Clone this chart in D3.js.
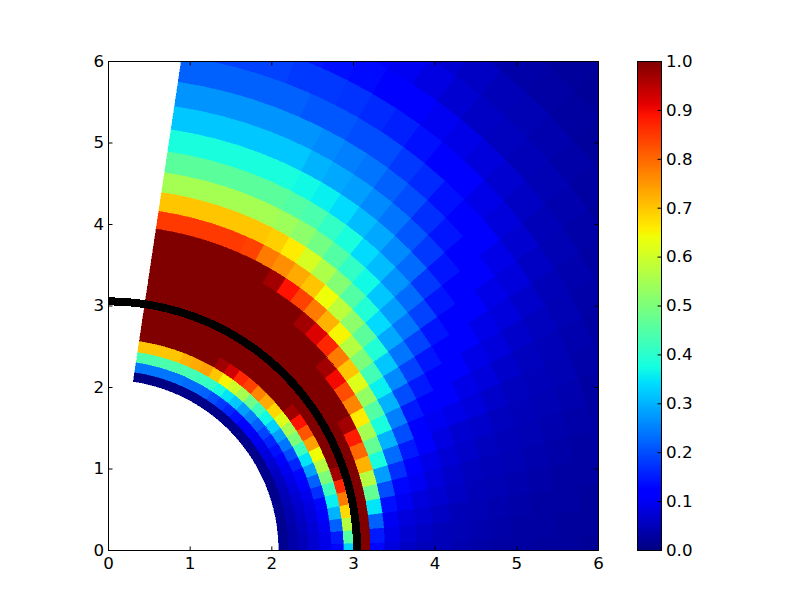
<!DOCTYPE html>
<html><head><meta charset="utf-8">
<script src="https://cdnjs.cloudflare.com/ajax/libs/d3/7.8.5/d3.min.js"></script>
<style>html,body{margin:0;padding:0;background:#fff}svg{display:block}text{font-family:"DejaVu Sans";fill:#000}</style>
</head><body><svg id="c" width="812" height="612"></svg>
<script>
const radiusEdges=[2.09,2.206,2.328,2.456,2.592,2.735,2.887,3.046,3.215,3.393,3.58,3.78,3.988,4.208,4.441,4.687,4.946,5.219,5.508,5.81,6.13,6.47,6.83,7.21,7.6,8.03,8.47,8.95];
const thetaEdges=[-1.5,1.57,4.65,7.72,10.8,13.87,16.94,20.02,23.09,26.17,29.24,32.31,35.39,38.46,41.54,44.61,47.69,50.76,53.83,56.91,59.98,63.06,66.13,69.2,72.28,75.35,78.43,81.5];
const ring0=[.015,.015,.015,.015,.015,.015,.012,.012,.012,.012,.01,.01,.01,.01,.01,.01,.01,.01,.008,.008,.008,.008,.005,.005,.005,.005,.005];
const ring1=[.035,.035,.035,.04,.04,.045,.05,.055,.06,.07,.08,.09,.1,.11,.125,.14,.16,.18,.2,.22,.23,.23,.24,.24,.24,.24,.24];
const ring2=[.05,.05,.055,.06,.065,.07,.08,.09,.1,.12,.14,.16,.19,.22,.25,.28,.32,.35,.38,.41,.42,.43,.44,.44,.44,.44,.44];
const ring3=[.07,.07,.075,.08,.085,.095,.11,.13,.16,.2,.24,.28,.33,.37,.42,.48,.55,.6,.65,.7,.74,.73,.72,.7,.7,.7,.7];
const ring4=[.09,.09,.1,.11,.13,.17,.22,.28,.35,.42,.5,.55,.62,.68,.73,.77,.84,.87,.93,.97,1,1,1,1,1,1,1];
const ring5=[.13,.15,.22,.3,.36,.42,.5,.57,.64,.74,.82,.89,.97,1,1,1,1,1,1,1,1,1,1,1,1,1,1];
const ring6=[.33,.45,.57,.68,.78,.87,.97,1,1,1,1,1,1,1,1,1,1,1,1,1,1,1,1,1,1,1,1];
const ring7=[1,1,1,1,1,1,1,1,1,1,1,1,1,1,1,1,1,1,1,1,1,1,1,1,1,1,1];
const ring8=[.13,.15,.22,.35,.47,.57,.72,.8,.88,.97,1,1,1,1,1,1,1,1,1,1,1,1,1,1,1,1,1];
const ring9=[.08,.09,.1,.14,.2,.28,.38,.47,.55,.66,.77,.83,.9,.97,1,1,1,1,1,1,1,1,1,1,1,1,1];
const ring10=[.06,.07,.08,.1,.13,.17,.23,.3,.38,.45,.53,.62,.7,.78,.87,.92,.97,1,1,1,1,1,1,1,1,1,1];
const ring11=[.05,.06,.07,.08,.1,.12,.15,.2,.25,.3,.36,.43,.5,.57,.65,.72,.78,.84,.89,.97,1,1,1,1,1,1,1];
const ring12=[.05,.05,.06,.07,.08,.09,.11,.125,.15,.2,.26,.32,.39,.46,.52,.58,.64,.7,.73,.76,.78,.84,.85,.85,.85,.85,.85];
const ring13=[.04,.045,.05,.06,.065,.075,.085,.1,.12,.15,.19,.24,.29,.34,.39,.45,.51,.56,.61,.66,.69,.7,.7,.7,.7,.7,.7];
const ring14=[.035,.04,.045,.05,.055,.065,.07,.09,.11,.125,.145,.19,.24,.28,.32,.37,.41,.45,.49,.52,.54,.55,.55,.55,.55,.55,.55];
const ring15=[.03,.035,.04,.045,.05,.055,.065,.08,.09,.11,.125,.145,.19,.23,.27,.31,.34,.38,.41,.44,.45,.46,.46,.46,.46,.46,.46];
const ring16=[.03,.03,.035,.04,.045,.05,.055,.065,.08,.09,.11,.125,.145,.18,.23,.26,.29,.31,.34,.36,.37,.38,.38,.38,.38,.38,.38];
const ring17=[.025,.03,.03,.035,.04,.045,.05,.055,.065,.08,.09,.11,.125,.145,.18,.21,.24,.26,.28,.29,.3,.32,.32,.32,.32,.32,.32];
const ring18=[.025,.025,.03,.03,.035,.04,.045,.05,.055,.065,.08,.09,.11,.125,.145,.17,.2,.22,.24,.25,.26,.27,.27,.27,.27,.27,.27];
const ring19=[.02,.025,.025,.03,.03,.035,.04,.045,.05,.055,.065,.08,.09,.11,.125,.14,.165,.18,.2,.2,.21,.21,.22,.22,.22,.22,.22];
const ring20=[.02,.02,.025,.025,.03,.03,.03,.035,.04,.045,.05,.06,.07,.08,.09,.11,.125,.14,.155,.165,.175,.18,.18,.19,.19,.19,.19];
const ring21=[.02,.02,.02,.02,.025,.025,.03,.03,.03,.035,.04,.045,.05,.06,.07,.08,.09,.1,.115,.125,.135,.14,.15,.15,.15,.15,.15];
const ring22=[.015,.015,.015,.02,.02,.02,.025,.025,.025,.03,.03,.035,.04,.045,.05,.055,.06,.07,.085,.1,.11,.12,.12,.12,.12,.12,.12];
const ring23=[.015,.015,.015,.015,.02,.02,.02,.02,.02,.025,.025,.025,.03,.035,.04,.045,.05,.06,.07,.08,.09,.09,.09,.09,.09,.09,.09];
const ring24=[.01,.01,.01,.015,.015,.015,.015,.02,.02,.02,.02,.02,.022,.025,.028,.032,.035,.04,.05,.05,.05,.05,.05,.05,.05,.05,.05];
const ring25=[.01,.01,.01,.01,.01,.015,.015,.015,.015,.015,.015,.018,.018,.02,.022,.025,.028,.03,.035,.035,.035,.035,.035,.035,.035,.035,.035];
const ring26=[.01,.01,.01,.01,.01,.01,.01,.01,.012,.012,.012,.015,.015,.015,.018,.02,.02,.025,.025,.025,.025,.025,.025,.025,.025,.025,.025];
const rings=[ring0,ring1,ring2,ring3,ring4,ring5,ring6,ring7,ring8,ring9,ring10,ring11,ring12,ring13,ring14,ring15,ring16,ring17,ring18,ring19,ring20,ring21,ring22,ring23,ring24,ring25,ring26];
const axisTicks=[0,1,2,3,4,5,6];
const cbarTicks=[0,.1,.2,.3,.4,.5,.6,.7,.8,.9,1];
const lineRadius=3.05;
const lineThetas=[0,1.5,3,4.5,6,7.5,9,10.5,12,13.5,15,16.5,18,19.5,21,22.5,24,25.5,27,28.5,30,31.5,33,34.5,36,37.5,39,40.5,42,43.5,45,46.5,48,49.5,51,52.5,54,55.5,57,58.5,60,61.5,63,64.5,66,67.5,69,70.5,72,73.5,75,76.5,78,79.5,81,82.5,84,85.5,87,88.5,90];

const svg=d3.select("#c");
const L=108,R=598,T=61,B=550;
const x=d3.scaleLinear().domain([0,6]).range([L,R]);
const y=d3.scaleLinear().domain([0,6]).range([B,T]);
const jR=d3.scaleLinear().domain([0,.35,.66,.89,1]).range([0,0,1,1,.5]).clamp(true);
const jG=d3.scaleLinear().domain([0,.125,.375,.64,.91,1]).range([0,0,1,1,0,0]).clamp(true);
const jB=d3.scaleLinear().domain([0,.11,.34,.65,1]).range([.5,1,1,0,0]).clamp(true);
const jet=v=>d3.rgb(jR(v)*255,jG(v)*255,jB(v)*255).formatHex();
const rad=d=>d*Math.PI/180;
const px=(r,t)=>x(r*Math.cos(rad(t))), py=(r,t)=>y(r*Math.sin(rad(t)));

svg.append("clipPath").attr("id","plot").append("rect").attr("x",L).attr("y",T).attr("width",R-L).attr("height",B-T);
const mesh=svg.append("g").attr("clip-path","url(#plot)");
rings.forEach((vals,i)=>vals.forEach((v,j)=>{
  const r0=radiusEdges[i],r1=radiusEdges[i+1],t0=thetaEdges[j],t1=thetaEdges[j+1];
  const p=d3.path();
  p.moveTo(px(r0,t0),py(r0,t0));p.lineTo(px(r1,t0),py(r1,t0));p.lineTo(px(r1,t1),py(r1,t1));p.lineTo(px(r0,t1),py(r0,t1));p.closePath();
  mesh.append("path").attr("d",p.toString()).attr("fill",jet(v)).attr("stroke",jet(v)).attr("stroke-width",.4).attr("shape-rendering","crispEdges");
}));
mesh.append("path").datum(lineThetas).attr("fill","none").attr("stroke","#000").attr("stroke-width",8).attr("stroke-linejoin","round").attr("shape-rendering","crispEdges")
  .attr("d",d3.line().x(t=>px(lineRadius,t)).y(t=>py(lineRadius,t)).curve(d3.curveLinear));

// colourbar
const CL=637,CR=661;
const cy=d3.scaleLinear().domain([0,1]).range([B,T]);
const levels=d3.range(256);
svg.append("g").attr("shape-rendering","crispEdges").selectAll("rect").data(levels).join("rect")
  .attr("x",CL).attr("width",CR-CL)
  .attr("y",d=>Math.floor(cy((d+1)/256))).attr("height",d=>Math.ceil(cy(d/256))-Math.floor(cy((d+1)/256)))
  .attr("fill",d=>jet((d+.5)/256));

function styleAxis(g){
  g.selectAll(".domain").remove();
  g.selectAll("line").attr("stroke","#000").attr("stroke-width",1);
  g.selectAll("text").attr("font-size","16.67px").attr("font-family","DejaVu Sans");
}
const F=d3.format("d");
svg.append("g").attr("transform",`translate(0,${B+.5})`).call(d3.axisBottom(x).tickValues(axisTicks).tickFormat(F).tickSize(-4).tickPadding(7)).call(styleAxis);
svg.append("g").attr("transform",`translate(${L+.5},0)`).call(d3.axisLeft(y).tickValues(axisTicks).tickFormat(F).tickSize(-4).tickPadding(4.5)).call(styleAxis);
svg.append("g").attr("transform",`translate(0,${T+.5})`).call(d3.axisTop(x).tickValues(axisTicks).tickFormat("").tickSize(-4)).call(styleAxis);
svg.append("g").attr("transform",`translate(${R+.5},0)`).call(d3.axisRight(y).tickValues(axisTicks).tickFormat("").tickSize(-4)).call(styleAxis);
svg.append("g").attr("transform",`translate(${CR+.5},0)`).call(d3.axisRight(cy).tickValues(cbarTicks).tickFormat(d3.format(".1f")).tickSize(-4).tickPadding(4.5)).call(styleAxis);
svg.append("rect").attr("x",L+.5).attr("y",T+.5).attr("width",R-L).attr("height",B-T).attr("fill","none").attr("stroke","#000");
svg.append("rect").attr("x",CL+.5).attr("y",T+.5).attr("width",CR-CL).attr("height",B-T).attr("fill","none").attr("stroke","#000");
</script></body></html>
